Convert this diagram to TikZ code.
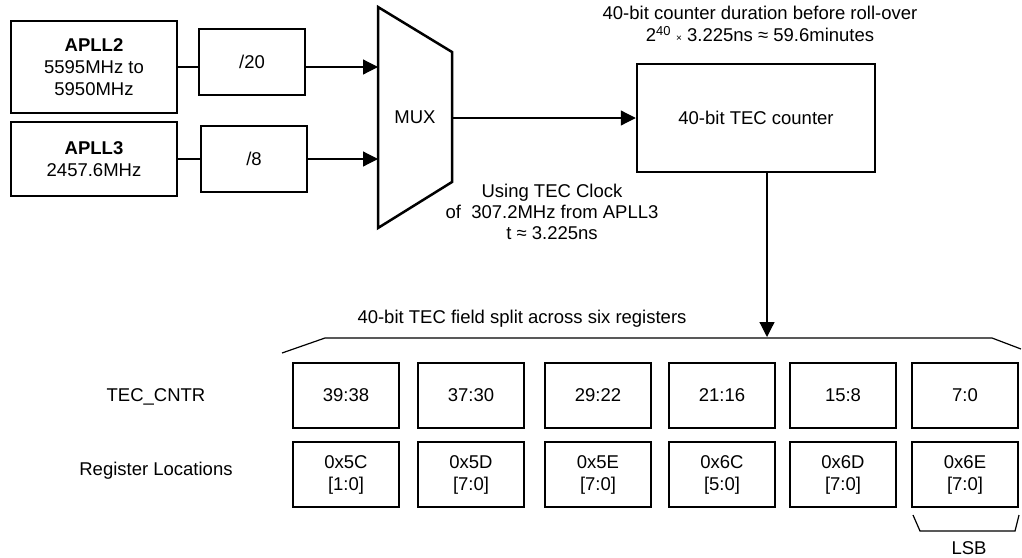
\documentclass[tikz,border=0pt]{standalone}
\usepackage{fontspec}
\setmainfont{Liberation Sans}
\usetikzlibrary{arrows.meta}
\begin{document}
\begin{tikzpicture}[x=1pt,y=-1pt,
  every node/.style={font=\fontsize{18.5}{22}\selectfont, inner sep=0pt, align=center},
  blk/.style={draw, line width=2.5pt},
  reg/.style={blk, minimum width=106pt, minimum height=65pt},
  conn/.style={line width=1.2pt},
  arr/.style={conn, -{Triangle[length=15pt,width=15pt]}}]
\useasboundingbox (0,0) rectangle (1022,557);

% sources and dividers
\node[blk, minimum width=166pt, minimum height=92pt] (apll2) at (94,67) {\textbf{APLL2}\\5595MHz to\\5950MHz};
\node[blk, minimum width=166pt, minimum height=74pt] (apll3) at (94,159) {\textbf{APLL3}\\2457.6MHz};
\node[blk, minimum width=106pt, minimum height=66pt] (div20) at (252,62) {/20};
\node[blk, minimum width=106pt, minimum height=66pt] (div8) at (254,159) {/8};

% mux
\draw[line width=2.5pt, line join=miter] (378,7) -- (452,52) -- (452,182) -- (378,228) -- cycle;
\node (mux) at (415,117) {MUX};
\coordinate (in1) at (378,67);
\coordinate (in2) at (378,159);
\coordinate (muxout) at (452,118);

\draw[conn] (apll2.east) -- (apll2.east -| div20.west);
\draw[arr] (apll2.east -| div20.east) -- (in1);
\draw[conn] (apll3.east) -- (div8.west);
\draw[arr] (div8.east) -- (in2);

% counter
\node[blk, minimum width=238pt, minimum height=108pt] (counter) at (756,118) {40-bit TEC counter};
\draw[arr] (muxout) -- (counter.west);
\node (dur) at (760,24) {40-bit counter duration before roll-over\\2\textsuperscript{40} {\fontsize{10}{10}\selectfont ×} 3.225ns ≈ 59.6minutes};
\node[font=\fontsize{18.5}{21}\selectfont] (clk) at (552,212) {Using TEC Clock\\of\ \ 307.2MHz from APLL3\\t ≈ 3.225ns};

% field bracket
\coordinate (bl) at (282,353);
\coordinate (blt) at (325,338);
\coordinate (brt) at (992,338);
\coordinate (br) at (1021,349);
\coordinate (tap) at (767,337);
\draw[conn] (bl) -- (blt) -- (brt) -- (br);
\draw[arr] (tap |- counter.south) -- (tap);
\node (fieldlbl) at (522,319) {40-bit TEC field split across six registers};

% registers
\node (cntrlbl) at (156,397) {TEC\_CNTR};
\node (loclbl) at (156,471) {Register Locations};
\foreach \ii/\xx/\ta/\ra/\rb in {1/346/39:38/0x5C/[1:0], 2/471/37:30/0x5D/[7:0], 3/598/29:22/0x5E/[7:0], 4/722/21:16/0x6C/[5:0], 5/843/15:8/0x6D/[7:0], 6/965/7:0/0x6E/[7:0]}{
  \node[reg] (t\ii) at (\xx,395.5) {\ta};
  \node[reg] (r\ii) at (\xx,474.5) {\ra\\\relax\rb};
}

% LSB bracket
\coordinate (l1) at (913,515);
\coordinate (l2) at (920,531);
\coordinate (l3) at (1015,531);
\coordinate (l4) at (1019,515);
\draw[conn] (l1) -- (l2) -- (l3) -- (l4);
\node (lsb) at (969,548) {LSB};
\end{tikzpicture}
\end{document}
